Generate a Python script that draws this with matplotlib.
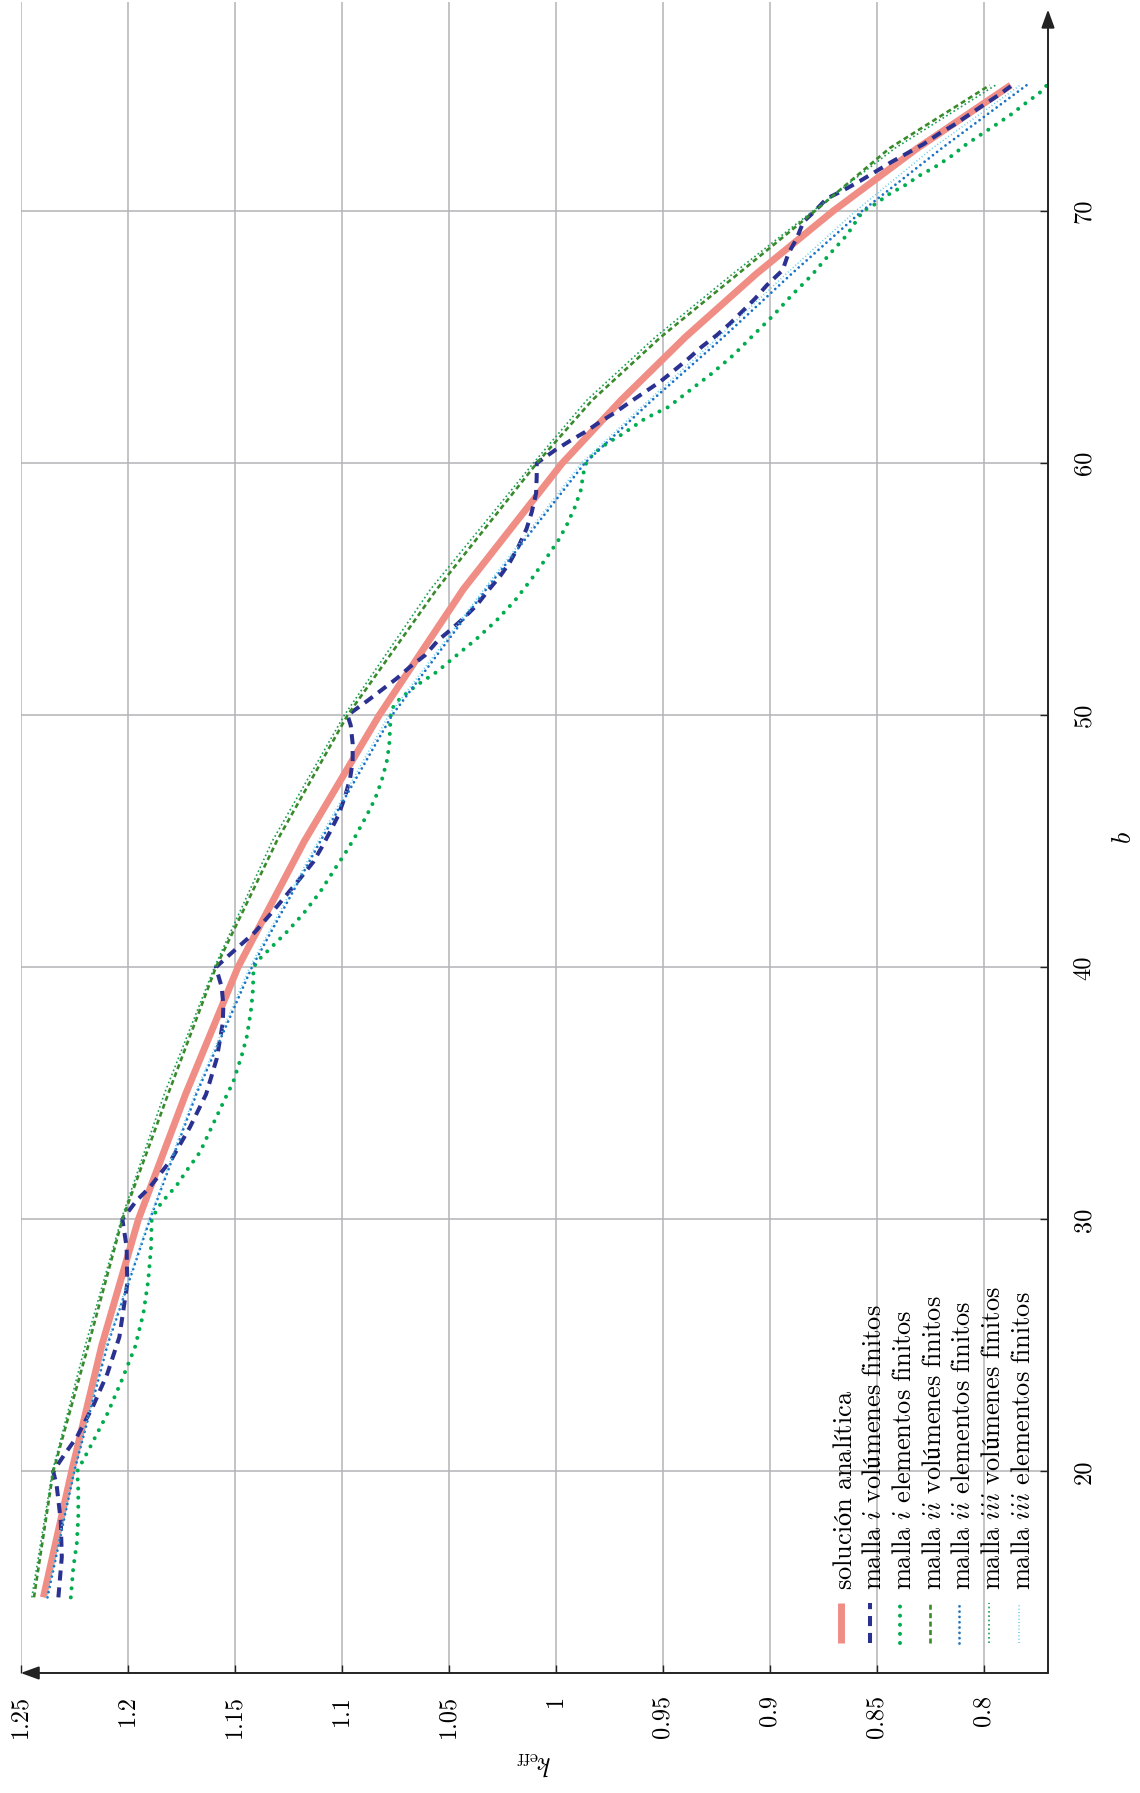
import matplotlib
matplotlib.use("Agg")
import matplotlib.pyplot as plt

plt.rcParams["font.family"] = ["cmr10", "STIXGeneral"]
plt.rcParams["mathtext.fontset"] = "cm"
plt.rcParams["axes.unicode_minus"] = False

# solución analítica
b_an = [15, 20, 25, 30, 35, 40, 45, 50, 55, 60, 62.5, 65, 67.5, 70, 72.5, 75]
k_an = [1.2394, 1.2262, 1.2121, 1.1950, 1.1728, 1.1485, 1.1175, 1.0825, 1.0432,
        0.9970, 0.9695, 0.9395, 0.9065, 0.8705, 0.8310, 0.7874]

# malla i volúmenes finitos
b_vf1 = [15, 16.6, 18.05, 19.44, 20, 20.7, 21.36, 22.55, 23.88, 25.33, 27.45, 28.9, 30,
         30.75, 31.28, 32.4, 33.66, 34.96, 36.38, 37.77, 38.49, 39.22, 40,
         40.4, 40.87, 41.4, 42.4, 43.52, 44.18, 44.77, 45.37, 46.03, 46.76, 47.49, 48.15, 48.88, 49.6, 50,
         50.6, 51.46, 51.92, 52.38, 52.98, 53.37, 53.84, 54.37, 54.96, 55.52, 56.08, 56.68, 57.41, 58.07,
         58.8, 59.46, 60,
         60.52, 60.89, 61.24, 61.64, 62.01, 62.43, 62.83, 63.23, 63.66, 64.15, 64.62, 65.08, 65.54, 66.07,
         66.53, 67.06, 67.66, 68.32, 68.92, 69.58, 70,
         70.5, 70.83, 71.2, 71.56, 71.96, 72.29, 72.66, 73.06, 73.41, 73.81, 74.21, 74.6, 74.96]
k_vf1 = [1.2324, 1.2308, 1.2313, 1.2332, 1.2348, 1.2293, 1.2238, 1.2164, 1.2095, 1.2039, 1.2002, 1.2005, 1.2025,
         1.1958, 1.1896, 1.1794, 1.1709, 1.1634, 1.1584, 1.1556, 1.1553, 1.1561, 1.1588,
         1.1537, 1.1475, 1.1405, 1.1304, 1.1195, 1.1133, 1.1093, 1.1055, 1.1016, 1.0985, 1.0961, 1.0949, 1.0949, 1.0958, 1.0973,
         1.0876, 1.0743, 1.0681, 1.0611, 1.0549, 1.0494, 1.0432, 1.0369, 1.0315, 1.0260, 1.0214, 1.0175, 1.0136, 1.0112,
         1.0092, 1.0089, 1.0089,
         1.0003, 0.9933, 0.9863, 0.9793, 0.9723, 0.9653, 0.9583, 0.9513, 0.9450, 0.9380, 0.9318, 0.9248, 0.9186, 0.9123,
         0.9069, 0.9014, 0.8940, 0.8913, 0.8874, 0.8843, 0.8790,
         0.8734, 0.8656, 0.8578, 0.8508, 0.8430, 0.8360, 0.8282, 0.8212, 0.8142, 0.8072, 0.8002, 0.7932, 0.7874]

# malla i elementos finitos
b_ef1 = [15, 16.2, 17.13, 18.19, 19.25, 20, 20.96, 22.29, 23.61, 24.93, 26.26, 27.58, 28.9, 30,
         30.49, 30.82, 31.35, 31.94, 32.67, 33.8, 34.79, 35.45, 36.51, 37.23, 38.23, 38.96, 39.62, 40,
         40.35, 40.81, 41.4, 42.13, 42.99, 43.92, 44.51, 45.17, 46.03, 46.69, 47.42, 48.15, 48.81, 49.54, 50,
         50.33, 50.66, 51.19, 51.72, 52.38, 53.04, 53.77, 54.56, 55.42, 56.35, 56.94, 57.54, 58.27, 58.93,
         59.59, 60,
         60.38, 60.78, 61.18, 61.77, 62.23, 62.9, 63.56, 64.29, 65.08, 65.87, 66.67, 67.46, 68.32, 69.05,
         69.84, 70,
         70.28, 70.7, 71.03, 71.43, 71.76, 72.15, 72.62, 73.02, 73.41, 73.81, 74.27, 74.69, 75]
k_ef1 = [1.2266, 1.2254, 1.2238, 1.2231, 1.2231, 1.2236, 1.2176, 1.2095, 1.2028, 1.1966, 1.1927, 1.1904, 1.1891, 1.1888,
         1.1857, 1.1826, 1.1771, 1.1724, 1.1662, 1.1600, 1.1545, 1.1507, 1.1467, 1.1444, 1.1425, 1.1416, 1.1413, 1.1413,
         1.1382, 1.1327, 1.1257, 1.1179, 1.1101, 1.1031, 1.0985, 1.0938, 1.0883, 1.0844, 1.0813, 1.0790, 1.0778, 1.0774, 1.0771,
         1.0759, 1.0728, 1.0650, 1.0556, 1.0463, 1.0369, 1.0276, 1.0190, 1.0112, 1.0035, 0.9988, 0.9949, 0.9910, 0.9883,
         0.9871, 0.9858,
         0.9824, 0.9762, 0.9684, 0.9583, 0.9474, 0.9372, 0.9271, 0.9170, 0.9077, 0.8983, 0.8897, 0.8804, 0.8718, 0.8640,
         0.8578, 0.8565,
         0.8508, 0.8438, 0.8368, 0.8297, 0.8227, 0.8157, 0.8087, 0.8017, 0.7947, 0.7877, 0.7807, 0.7740, 0.7705]

# malla ii / iii
b_fine = [15, 20, 25, 30, 35, 40, 45, 50, 55, 60, 62.5, 65, 67.5, 70, 72.5, 75]
k_vf2 = [1.2438, 1.2348, 1.2184, 1.2025, 1.1810, 1.1588, 1.1304, 1.0973, 1.0556, 1.0089,
         0.9830, 0.9510, 0.9150, 0.8790, 0.8440, 0.7972]
k_ef2 = [1.2375, 1.2250, 1.2095, 1.1896, 1.1678, 1.1420, 1.1100, 1.0765, 1.0325, 0.9865,
         0.9550, 0.9217, 0.8900, 0.8570, 0.8196, 0.7800]
k_vf3 = [1.2448, 1.2352, 1.2198, 1.2030, 1.1828, 1.1595, 1.1325, 1.0988, 1.0585, 1.0105,
         0.9855, 0.9535, 0.9175, 0.8800, 0.8415, 0.7945]
k_ef3 = [1.2380, 1.2255, 1.2100, 1.1900, 1.1685, 1.1430, 1.1110, 1.0780, 1.0335, 0.9880,
         0.9565, 0.9240, 0.8925, 0.8600, 0.8240, 0.7830]

k_ticks = [1.25, 1.2, 1.15, 1.1, 1.05, 1.0, 0.95, 0.9, 0.85, 0.8]
k_labels = ["1.25", "1.2", "1.15", "1.1", "1.05", "1", "0.95", "0.9", "0.85", "0.8"]
b_ticks = [20, 30, 40, 50, 60, 70]

labels = [r"$\mathrm{solución}\ \mathrm{analítica}$",
          r"$\mathrm{malla}\ i\ \mathrm{volúmenes}\ \mathrm{finitos}$",
          r"$\mathrm{malla}\ i\ \mathrm{elementos}\ \mathrm{finitos}$",
          r"$\mathrm{malla}\ ii\ \mathrm{volúmenes}\ \mathrm{finitos}$",
          r"$\mathrm{malla}\ ii\ \mathrm{elementos}\ \mathrm{finitos}$",
          r"$\mathrm{malla}\ iii\ \mathrm{volúmenes}\ \mathrm{finitos}$",
          r"$\mathrm{malla}\ iii\ \mathrm{elementos}\ \mathrm{finitos}$"]

styles = [dict(color="#f08e86", lw=5.0, solid_capstyle="butt"),
          dict(color="#2b3190", lw=2.9, dashes=(2.5, 1.7), dash_capstyle="butt"),
          dict(color="#00ad4e", lw=2.9, dashes=(0.01, 2.25), dash_capstyle="round"),
          dict(color="#3a8a2c", lw=1.9, dashes=(1.9, 1.3), dash_capstyle="butt"),
          dict(color="#1c72c4", lw=2.0, dashes=(0.01, 1.9), dash_capstyle="round"),
          dict(color="#1b9e55", lw=1.2, dashes=(1.0, 1.6), dash_capstyle="butt"),
          dict(color="#66ccee", lw=1.2, dashes=(0.6, 1.4), dash_capstyle="butt")]

series = [(k_an, b_an), (k_vf1, b_vf1), (k_ef1, b_ef1), (k_vf2, b_fine),
          (k_ef2, b_fine), (k_vf3, b_fine), (k_ef3, b_fine)]

fig = plt.figure(figsize=(11.4, 17.93), dpi=100)
ax = fig.add_axes([0.01816, 0.06693, 0.90114, 0.93195])
ax.set_xlim(1.25, 0.77)
ax.set_ylim(12, 78.3)

for (k, b), st in zip(series, styles):
    ax.plot(k, b, **st, zorder=3)

# grid + ticks
ax.set_xticks(k_ticks)
ax.set_xticklabels(k_labels)
ax.set_yticks(b_ticks)
ax.grid(True, color="#b4b4b8", lw=1.1)
ax.set_axisbelow(True)
for s in ax.spines.values():
    s.set_visible(False)
ax.yaxis.tick_right()
ax.tick_params(axis="x", direction="in", length=6, width=1.0, color="#222222",
               labelsize=17.5, pad=16, labelrotation=90)
ax.tick_params(axis="y", direction="in", length=6, width=1.0, color="#222222",
               labelsize=17.5, pad=18, labelrotation=90, left=False, right=True)
for lbl in ax.get_yticklabels():
    lbl.set_va("center")

# arrowed axis lines
arr = dict(arrowstyle="-|>,head_length=0.55,head_width=0.2", color="#222222", lw=1.4,
           mutation_scale=20, shrinkA=0, shrinkB=0)
ax.annotate("", xy=(0, 0), xytext=(1, 0), xycoords="axes fraction", arrowprops=arr)
ax.annotate("", xy=(0.77, 78.0), xytext=(0.77, 12), xycoords="data", arrowprops=arr)

ax.set_xlabel(r"$k_{\mathrm{eff}}$", rotation=180, fontsize=19, labelpad=8)
ax.yaxis.set_label_position("right")
ax.set_ylabel(r"$b$", rotation=90, fontsize=19, labelpad=12)

# rotated legend, drawn by hand
for i, (lab, st) in enumerate(zip(labels, styles)):
    x = 0.7982 + i * 0.0289
    ax.plot([x, x], [0.018, 0.0419], transform=ax.transAxes, clip_on=False, zorder=4, **st)
    ax.text(x + 0.004, 0.0497, lab, transform=ax.transAxes, rotation=90,
            ha="center", va="bottom", fontsize=19)

fig.savefig("out.png", dpi=100)
